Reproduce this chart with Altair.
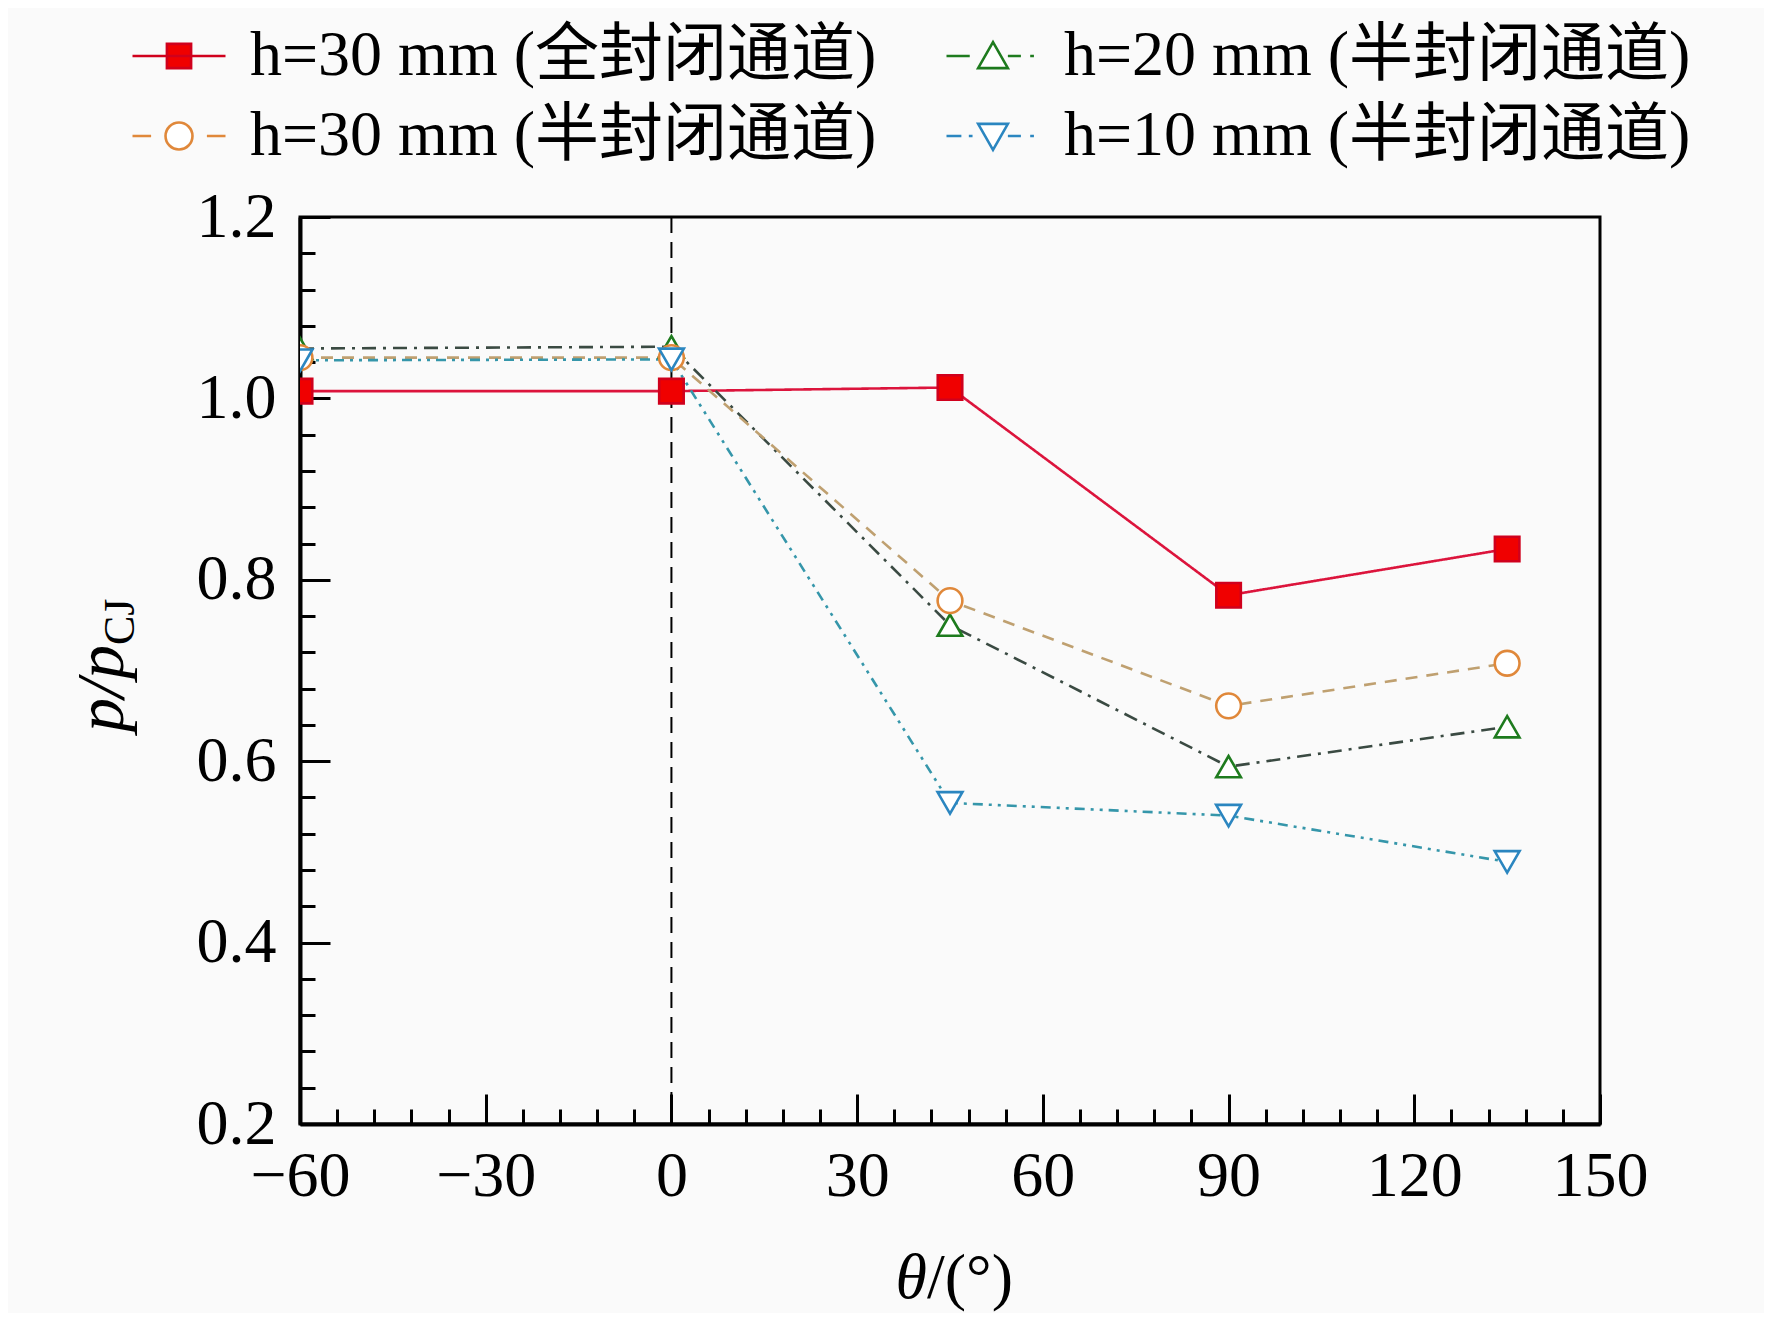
import altair as alt
import pandas as pd

# ---------------- data ----------------
theta = [-60, 0, 45, 90, 135]
series_names = [
    "h=30 mm (全封闭通道)",
    "h=20 mm (半封闭通道)",
    "h=30 mm (半封闭通道)",
    "h=10 mm (半封闭通道)",
]
p_full_30 = [1.008, 1.008, 1.012, 0.783, 0.834]
p_semi_20 = [1.055, 1.057, 0.750, 0.594, 0.638]
p_semi_30 = [1.045, 1.045, 0.777, 0.661, 0.708]
p_semi_10 = [1.042, 1.043, 0.554, 0.540, 0.489]

x_ticks = [-60, -30, 0, 30, 60, 90, 120, 150]
x_minor = [v for v in range(-54, 150, 6)]
y_ticks = [0.2, 0.4, 0.6, 0.8, 1.0, 1.2]
y_minor = [round(0.2 + 0.04 * i, 2) for i in range(1, 25)]
v_line = [0]

# ---------------- styles ----------------
line_colors = ["#DC143C", "#3A4A42", "#BFA070", "#3596AA"]
marker_stroke = ["#D0001C", "#1E7B1E", "#E0883A", "#2B86C0"]
marker_fill = ["#F00000", "white", "white", "white"]
marker_shape = ["square", "triangle-up", "circle", "triangle-down"]
marker_size = [600, 620, 560, 620]
dashes = [[1, 0], [14, 7, 3, 7], [12, 9], [10, 6, 3, 6, 3, 6]]
legend_paths = [
    "M-1,0H1M-0.26,-0.26H0.26V0.26H-0.26Z",
    "M-1,0H-0.5M0.32,0H0.6M0.8,0H0.88M0,-0.3L0.32,0.26H-0.32Z",
    "M-1,0H-0.6M0.6,0H1M-0.29,0A0.29,0.29 0 1 0 0.29,0A0.29,0.29 0 1 0 -0.29,0Z",
    "M-1,0H-0.68M-0.52,0H-0.44M0.32,0H0.6M0.8,0H0.88M0,0.3L0.32,-0.26H-0.32Z",
]

FONT = "Liberation Serif, Noto Sans CJK SC"

rows = []
for name, vals in zip(series_names, [p_full_30, p_semi_20, p_semi_30, p_semi_10]):
    for t, v in zip(theta, vals):
        rows.append({"series": name, "theta": t, "p": v})
df = pd.DataFrame(rows)

xs = alt.Scale(domain=[-60, 150], nice=False, zero=False)
ys = alt.Scale(domain=[0.2, 1.2], nice=False, zero=False)

ax_x_main = alt.Axis(values=x_ticks, orient="bottom", ticks=False, tickSize=0, domain=True,
                     domainColor="black", domainWidth=4, labelFont=FONT, labelFontSize=64,
                     labelColor="black", labelPadding=20, labelFlush=False, grid=False,
                     title=None, format=".0f")
ax_x_major = alt.Axis(values=x_ticks, orient="bottom", labels=False, domain=False, ticks=True,
                      tickSize=30, tickWidth=3, tickColor="black", offset=-30, grid=False, title=None)
ax_x_minor = alt.Axis(values=x_minor, orient="bottom", labels=False, domain=False, ticks=True,
                      tickSize=15, tickWidth=3, tickColor="black", offset=-15, grid=False, title=None)
ax_y_main = alt.Axis(values=y_ticks, orient="left", ticks=False, tickSize=0, domain=True,
                     domainColor="black", domainWidth=4, labelFont=FONT, labelFontSize=64,
                     labelColor="black", labelPadding=24, labelFlush=False, grid=False,
                     title=None, format=".1f")
ax_y_major = alt.Axis(values=y_ticks, orient="left", labels=False, domain=False, ticks=True,
                      tickSize=30, tickWidth=3, tickColor="black", offset=-30, grid=False, title=None)
ax_y_minor = alt.Axis(values=y_minor, orient="left", labels=False, domain=False, ticks=True,
                      tickSize=15, tickWidth=3, tickColor="black", offset=-15, grid=False, title=None)

lines = alt.Chart(df).mark_line(strokeWidth=2.6, clip=True).encode(
    x=alt.X("theta:Q", scale=xs, axis=ax_x_main),
    y=alt.Y("p:Q", scale=ys, axis=ax_y_main),
    color=alt.Color("series:N", scale=alt.Scale(domain=series_names, range=line_colors), legend=None),
    strokeDash=alt.StrokeDash("series:N", scale=alt.Scale(domain=series_names, range=dashes), legend=None),
    order="theta:Q",
)

vrule = alt.Chart(pd.DataFrame({"theta": v_line})).mark_rule(
    color="black", strokeWidth=2, strokeDash=[16, 9]
).encode(x=alt.X("theta:Q", scale=xs, axis=None))

points = alt.Chart(df).mark_point(opacity=1, strokeWidth=2.6, clip=True).encode(
    x=alt.X("theta:Q", scale=xs, axis=ax_x_major),
    y=alt.Y("p:Q", scale=ys, axis=ax_y_major),
    shape=alt.Shape("series:N", scale=alt.Scale(domain=series_names, range=marker_shape), legend=None),
    stroke=alt.Stroke("series:N", scale=alt.Scale(domain=series_names, range=marker_stroke), legend=None),
    fill=alt.Fill("series:N", scale=alt.Scale(domain=series_names, range=marker_fill), legend=None),
    size=alt.Size("series:N", scale=alt.Scale(domain=series_names, range=marker_size), legend=None),
)

legend = alt.Legend(
    title=None, orient="none", legendX=-169, legendY=-209, columns=2, direction="horizontal",
    symbolSize=8650, symbolStrokeWidth=2.6, labelFont=FONT, labelFontSize=64,
    labelColor="black", labelOffset=23, columnPadding=64, rowPadding=0, padding=0,
    labelLimit=2000,
)
legend_layer = alt.Chart(df).transform_filter("datum.theta > 1000").mark_point(
    opacity=1, strokeWidth=2.6
).encode(
    x=alt.X("theta:Q", scale=xs, axis=ax_x_minor),
    y=alt.Y("p:Q", scale=ys, axis=ax_y_minor),
    shape=alt.Shape("series:N", scale=alt.Scale(domain=series_names, range=legend_paths), legend=legend),
    stroke=alt.Stroke("series:N", scale=alt.Scale(domain=series_names, range=marker_stroke), legend=legend),
    fill=alt.Fill("series:N", scale=alt.Scale(domain=series_names, range=marker_fill), legend=legend),
)

# axis titles as text (italic parts + subscript)
y_title_main = alt.Chart(pd.DataFrame({"t": ["p/p"]})).mark_text(
    angle=270, align="right", baseline="alphabetic", font=FONT, fontStyle="italic",
    fontSize=68, color="black"
).encode(text="t:N", x=alt.value(-177), y=alt.value(428))
y_title_sub = alt.Chart(pd.DataFrame({"t": ["CJ"]})).mark_text(
    angle=270, align="left", baseline="alphabetic", font=FONT, fontSize=44, color="black"
).encode(text="t:N", x=alt.value(-166), y=alt.value(428))
x_title_a = alt.Chart(pd.DataFrame({"t": ["θ"]})).mark_text(
    align="right", baseline="alphabetic", font=FONT, fontStyle="italic", fontSize=64, color="black"
).encode(text="t:N", x=alt.value(627), y=alt.value(1081))
x_title_b = alt.Chart(pd.DataFrame({"t": ["/(°)"]})).mark_text(
    align="left", baseline="alphabetic", font=FONT, fontSize=64, color="black"
).encode(text="t:N", x=alt.value(627), y=alt.value(1081))

chart = alt.layer(
    lines, vrule, points, legend_layer, y_title_main, y_title_sub, x_title_a, x_title_b
).resolve_scale(
    shape="independent", stroke="independent", fill="independent"
).resolve_axis(
    x="independent", y="independent"
).properties(
    width=1300, height=907,
    autosize=alt.AutoSizeParams(type="none"),
    padding={"left": 292, "top": 209, "right": 164, "bottom": 189},
    background="#FAFAFA",
).configure_view(
    stroke="black", strokeWidth=3
)

chart.save("out.html", embed_options={"renderer": "svg", "actions": False})
